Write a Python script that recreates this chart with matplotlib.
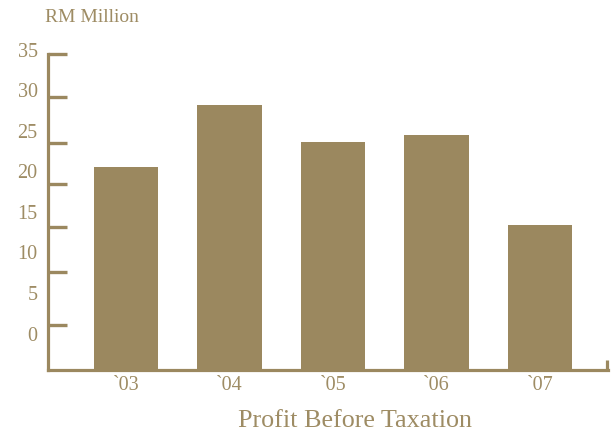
import matplotlib
matplotlib.use("Agg")
import matplotlib.pyplot as plt

years = ["`03", "`04", "`05", "`06", "`07"]
profit = [22.5, 29.3, 25.2, 26.0, 16.1]
label_values = [0, 5, 10, 15, 20, 25, 30, 35]
tick_marks = [5.0, 10.9, 15.8, 20.6, 25.1, 30.2, 35.0]

gold = "#9B885F"
text_gold = "#9E8C64"
serif = ["Liberation Serif", "DejaVu Serif"]

fig = plt.figure(figsize=(6.12, 4.37), dpi=100)
ax = fig.add_axes([48 / 612, 67 / 437, 560 / 612, 330 / 437])

x = list(range(len(years)))
ax.bar(x, profit, width=0.62, color=gold, zorder=2)
ax.set_xlim(-0.754, 4.657)
ax.set_ylim(0, 36.55)

for s in ["top", "right"]:
    ax.spines[s].set_visible(False)
ax.spines["left"].set_bounds(0, 35)
for s in ["left", "bottom"]:
    ax.spines[s].set_color(gold)
    ax.spines[s].set_linewidth(2.3)

ax.set_yticks(tick_marks)
ax.set_yticklabels([])
ax.tick_params(axis="y", direction="in", length=14, width=2.4, color=gold)

ax.set_xticks(x)
ax.set_xticklabels(years, family=serif, fontsize=14.5, color=text_gold)
ax.tick_params(axis="x", length=0, pad=4)

# small upturn at the right end of the x axis
ax.plot([4.644, 4.644], [0, 1.1], color=gold, lw=2.3, solid_capstyle="butt", clip_on=False)

# tick labels on a twin scale
ax2 = ax.twinx()
ax2.set_ylim(-4.19, 36.48)
ax2.set_xlim(ax.get_xlim())
ax2.axis("off")
for v in label_values:
    ax2.text(-0.854, v, str(v), ha="right", va="center", family=serif,
             fontsize=14.5, color=text_gold)

fig.text(45 / 612, 1 - 18 / 437, "RM Million", ha="left", va="center",
         family=serif, fontsize=14, color=text_gold)
fig.text(355 / 612, 1 - 421 / 437, "Profit Before Taxation", ha="center",
         va="center", family=serif, fontsize=18.8, color=text_gold)

fig.savefig("out.png", dpi=100)
